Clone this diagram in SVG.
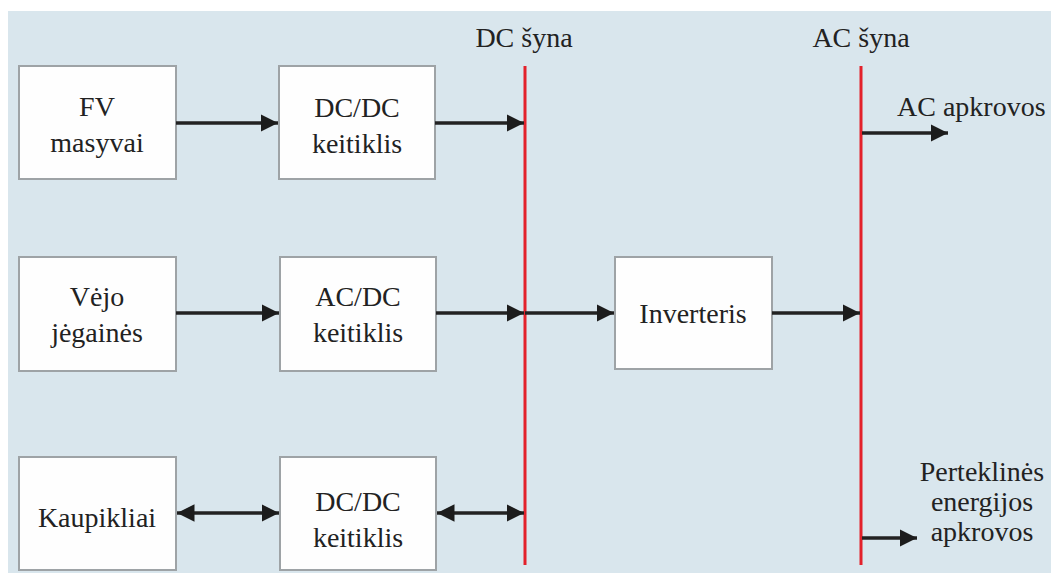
<svg xmlns="http://www.w3.org/2000/svg" width="1051" height="573" viewBox="0 0 1051 573">
  <style>
    .bg { fill: #d9e6ed; }
    .box { fill: #fefefe; stroke: #9ea3a6; stroke-width: 2; }
    .t { font-size: 28px; fill: #222; text-anchor: middle; }
    .tl { font-size: 28px; fill: #222; }
    .bus { stroke: #e3212b; stroke-width: 3; fill: none; }
    .c { stroke: #222; stroke-width: 3.5; fill: none; }
  </style>
  <defs>
    <marker id="ah" viewBox="0 0 10 10" refX="10" refY="5" markerWidth="5" markerHeight="5" markerUnits="strokeWidth" orient="auto-start-reverse">
      <path d="M0,0 L10,5 L0,10 Z" fill="#1c1c1c"/>
    </marker>
  </defs>
  <rect x="0" y="0" width="1051" height="573" fill="#ffffff"/>
  <rect class="bg" x="8" y="11" width="1043" height="562"/>

  <g font-family="Liberation Serif, Times New Roman, Times, serif">
  <g id="bus-dc">
    <line class="bus" x1="525" y1="66" x2="525" y2="565"/>
    <text class="t" x="524" y="47">DC šyna</text>
  </g>
  <g id="bus-ac">
    <line class="bus" x1="861" y1="66" x2="861" y2="565"/>
    <text class="t" x="861" y="47">AC šyna</text>
  </g>

  <g id="fv">
    <rect class="box" x="19" y="66" width="157" height="113"/>
    <text class="t" x="97" y="116">FV</text>
    <text class="t" x="97" y="152">masyvai</text>
  </g>
  <g id="dcdc1">
    <rect class="box" x="279" y="66" width="156" height="113"/>
    <text class="t" x="357" y="117">DC/DC</text>
    <text class="t" x="357" y="153">keitiklis</text>
  </g>
  <g id="vejo">
    <rect class="box" x="19" y="257" width="157" height="114"/>
    <text class="t" x="97" y="306">Vėjo</text>
    <text class="t" x="97" y="342">jėgainės</text>
  </g>
  <g id="acdc">
    <rect class="box" x="280" y="257" width="156" height="114"/>
    <text class="t" x="358" y="306">AC/DC</text>
    <text class="t" x="358" y="342">keitiklis</text>
  </g>
  <g id="inverteris">
    <rect class="box" x="615" y="257" width="157" height="112"/>
    <text class="t" x="693" y="323">Inverteris</text>
  </g>
  <g id="kaupikliai">
    <rect class="box" x="19" y="457" width="157" height="113"/>
    <text class="t" x="97" y="527">Kaupikliai</text>
  </g>
  <g id="dcdc2">
    <rect class="box" x="280" y="457" width="156" height="113"/>
    <text class="t" x="358" y="511">DC/DC</text>
    <text class="t" x="358" y="547">keitiklis</text>
  </g>
  <g id="ac-apkrovos">
    <text class="tl" x="897" y="116">AC apkrovos</text>
  </g>
  <g id="perteklines">
    <text class="t" x="982" y="481">Perteklinės</text>
    <text class="t" x="982" y="511">energijos</text>
    <text class="t" x="982" y="541">apkrovos</text>
  </g>
  </g>

  <g id="connectors">
    <line class="c" x1="176" y1="123" x2="278" y2="123" marker-end="url(#ah)"/>
    <line class="c" x1="435" y1="123" x2="524" y2="123" marker-end="url(#ah)"/>
    <line class="c" x1="176" y1="313" x2="279" y2="313" marker-end="url(#ah)"/>
    <line class="c" x1="436" y1="313" x2="524" y2="313" marker-end="url(#ah)"/>
    <line class="c" x1="525" y1="313" x2="614" y2="313" marker-end="url(#ah)"/>
    <line class="c" x1="772" y1="313" x2="860" y2="313" marker-end="url(#ah)"/>
    <line class="c" x1="177" y1="513" x2="279" y2="513" marker-start="url(#ah)" marker-end="url(#ah)"/>
    <line class="c" x1="437" y1="513" x2="524" y2="513" marker-start="url(#ah)" marker-end="url(#ah)"/>
    <line class="c" x1="862" y1="133" x2="948" y2="133" marker-end="url(#ah)"/>
    <line class="c" x1="862" y1="538" x2="917" y2="538" marker-end="url(#ah)"/>
  </g>
</svg>
